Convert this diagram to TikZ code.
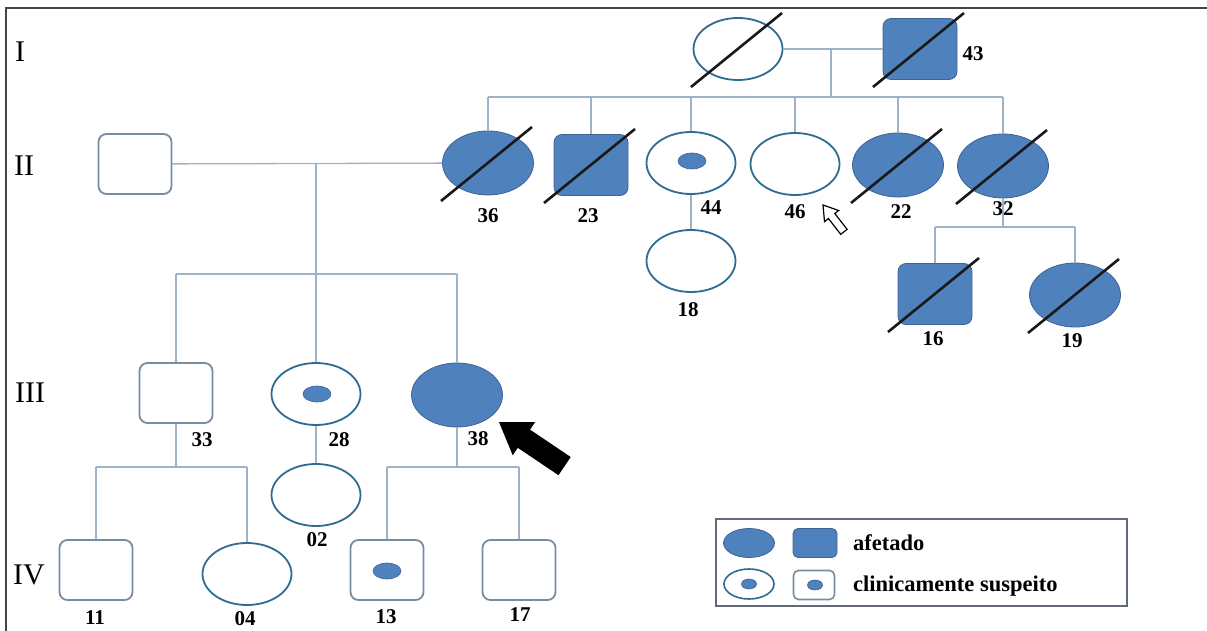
\documentclass[tikz,border=0pt]{standalone}
\usepackage{fontspec}
\setmainfont{Liberation Serif}
\usetikzlibrary{shapes.geometric,calc}
\definecolor{afill}{RGB}{79,129,189}
\definecolor{aedge}{RGB}{62,100,150}
\definecolor{ring}{RGB}{47,108,145}
\definecolor{sqedge}{RGB}{122,140,162}
\definecolor{linkc}{RGB}{160,178,198}
\definecolor{framec}{RGB}{70,70,70}
\definecolor{boxc}{RGB}{95,105,120}
\newcommand\deadmark[1]{\draw[decd] ($(#1)+(-47,38)$) -- ($(#1)+(44,-36)$);}
\begin{document}
\begin{tikzpicture}[x=1pt,y=-1pt,
 femo/.style={ellipse,draw=ring,line width=1.8pt,fill=white,minimum width=89,minimum height=62,inner sep=0},
 fema/.style={ellipse,draw=aedge,line width=0.8pt,fill=afill,minimum width=91,minimum height=64,inner sep=0},
 malo/.style={rectangle,rounded corners=8pt,draw=sqedge,line width=1.8pt,fill=white,minimum width=73,minimum height=60,inner sep=0},
 mala/.style={rectangle,rounded corners=8pt,draw=aedge,line width=0.8pt,fill=afill,minimum width=74,minimum height=61,inner sep=0},
 dotm/.style={ellipse,draw=aedge,line width=0.6pt,fill=afill,minimum width=28,minimum height=16,inner sep=0},
 lab/.style={font=\bfseries\fontsize{21}{21}\selectfont,inner sep=0},
 legt/.style={font=\bfseries\fontsize{22.5}{22.5}\selectfont,inner sep=0,anchor=base west},
 gen/.style={font=\fontsize{30}{30}\selectfont,inner sep=0,anchor=west},
 link/.style={draw=linkc,line width=1.3pt},
 decd/.style={draw=black!90,line width=2.6pt},
]
\useasboundingbox (0,0) rectangle (1207,631);
\fill[white] (0,0) rectangle (1207,631);
\draw[framec,line width=1.6pt] (6,631) -- (6,8) -- (1207,8);

% generation labels
\node[gen] (gI) at (15,52) {I};
\node[gen] (gII) at (14,166) {II};
\node[gen] (gIII) at (15,393) {III};
\node[gen] (gIV) at (13,575) {IV};

% Generation I
\node[femo] (I1) at (738,49) {};
\node[mala] (I2) at (920,49) {};
\node[lab] (l43) at (973,54) {43};

% Generation II
\node[malo] (II0) at (135,164) {};
\node[fema] (II36) at (488,163) {};
\node[mala] (II23) at (591,165) {};
\node[femo] (II44) at (691,163) {};
\node[dotm] (d44) at (692,161) {};
\node[femo] (II46) at (795,164) {};
\node[fema] (II22) at (898,165) {};
\node[fema] (II32) at (1003,166) {};
\node[femo] (II18) at (691,261) {};
\node[mala] (III16) at (935,294) {};
\node[fema] (III19) at (1075,295) {};

% Generation III
\node[malo] (III33) at (176,393) {};
\node[femo] (III28) at (316,394) {};
\node[dotm] (d28) at (317,394) {};
\node[fema] (III38) at (457,395) {};
\node[femo] (IV02) at (316,495) {};

% Generation IV
\node[malo] (IV11) at (96,570) {};
\node[femo] (IV04) at (247,574) {};
\node[malo] (IV13) at (387,570) {};
\node[dotm] (d13) at (387,571) {};
\node[malo] (IV17) at (519,570) {};

% connectors
\draw[link] (I1) -- (I2);
\coordinate (mI) at (831,49);
\coordinate (sII) at (831,97);
\draw[link] (mI) -- (sII);
\draw[link] (II36.north |- sII) -- (II32.north |- sII);
\foreach \c in {II36,II23,II44,II46,II22,II32}
  \draw[link] (\c.north) -- (\c.north |- sII);

\draw[link] (II0) -- (II36);
\coordinate (mII) at (316,164);
\coordinate (sIII) at (316,274);
\draw[link] (mII) -- (sIII);
\draw[link] (III33.north |- sIII) -- (III38.north |- sIII);
\foreach \c in {III33,III28,III38}
  \draw[link] (\c.north) -- (\c.north |- sIII);

\draw[link] (II44) -- (II18);

\coordinate (s32) at (1003,227);
\draw[link] (II32.south) -- (s32);
\draw[link] (III16.north |- s32) -- (III19.north |- s32);
\foreach \c in {III16,III19}
  \draw[link] (\c.north) -- (\c.north |- s32);

\draw[link] (III28) -- (IV02);

\coordinate (s33) at (176,467);
\draw[link] (III33.south) -- (s33);
\draw[link] (IV11.north |- s33) -- (IV04.north |- s33);
\foreach \c in {IV11,IV04}
  \draw[link] (\c.north) -- (\c.north |- s33);

\coordinate (s38) at (457,467);
\draw[link] (III38.south) -- (s38);
\draw[link] (IV13.north |- s38) -- (IV17.north |- s38);
\foreach \c in {IV13,IV17}
  \draw[link] (\c.north) -- (\c.north |- s38);

% deceased marks
\deadmark{I1}
\deadmark{I2}
\deadmark{II36}
\deadmark{II23}
\deadmark{II22}
\deadmark{II32}
\deadmark{III16}
\deadmark{III19}

% labels
\node[lab] at (488,216) {36};
\node[lab] at (588,216) {23};
\node[lab] at (711,208) {44};
\node[lab] at (795,212) {46};
\node[lab] at (901,212) {22};
\node[lab] at (1003,209) {32};
\node[lab] at (688,310) {18};
\node[lab] at (933,339) {16};
\node[lab] at (1072,341) {19};
\node[lab] at (202,440) {33};
\node[lab] at (339,440) {28};
\node[lab] at (478,439) {38};
\node[lab] at (317,540) {02};
\node[lab] at (95,618) {11};
\node[lab] at (245,619) {04};
\node[lab] at (386,617) {13};
\node[lab] at (520,615) {17};

% open arrow (II-46)
\draw[black,line width=1.2pt,fill=white,line join=miter]
  (823,205) -- (824.5,221.6) -- (828.4,218.5) -- (840.7,234.3) -- (847.1,229.3)
  -- (834.8,213.6) -- (838.7,210.5) -- cycle;
% proband arrow
\fill[black] (499,422) -- (512.7,455.3) -- (517.8,447.8) -- (558.5,475.2)
  -- (570.7,457.0) -- (530,429.6) -- (535.1,422.1) -- cycle;

% legend
\node[draw=boxc,line width=2pt,minimum width=411,minimum height=87,inner sep=0] (legend) at (921.5,562.5) {};
\node[fema,minimum width=51,minimum height=29] (LA1) at (749,543) {};
\node[mala,minimum width=44,minimum height=29,rounded corners=5pt] (LA2) at (815,543) {};
\node[legt] (LAt) at (853,550) {afetado};
\node[femo,minimum width=50,minimum height=30,line width=1.6pt] (LS1) at (749,584) {};
\node[dotm,minimum width=15,minimum height=10] (LS1d) at (749,584) {};
\node[malo,minimum width=41,minimum height=29,rounded corners=5pt,line width=1.6pt] (LS2) at (814,585) {};
\node[dotm,minimum width=15,minimum height=10] (LS2d) at (815,585) {};
\node[legt] (LSt) at (853,591) {clinicamente suspeito};
\end{tikzpicture}
\end{document}
